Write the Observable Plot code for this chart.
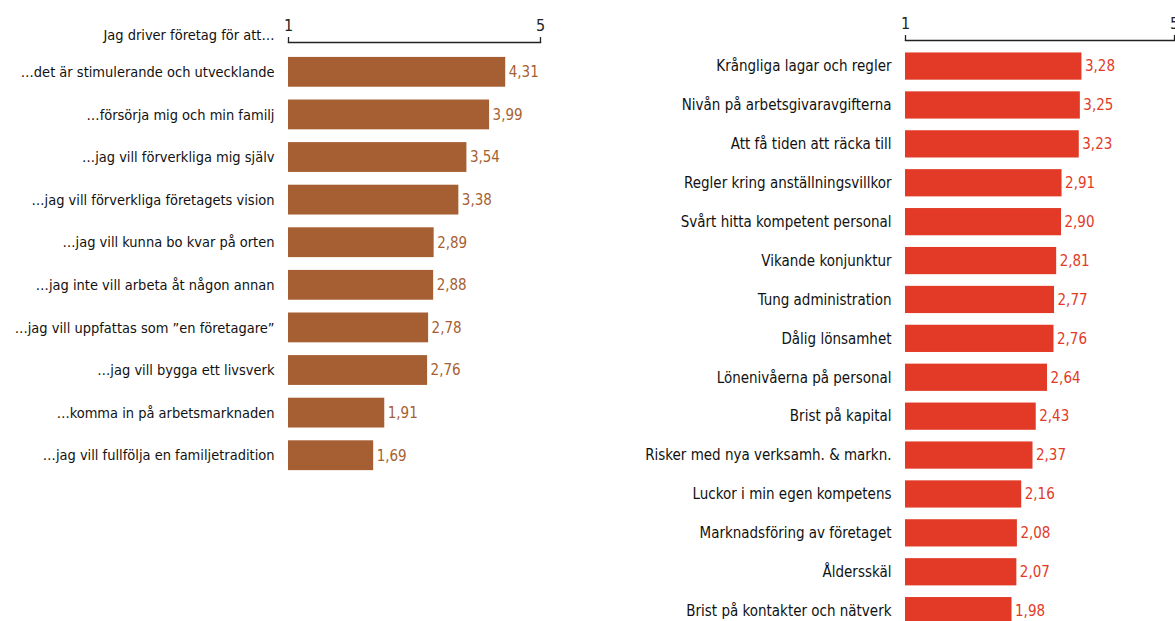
<!DOCTYPE html>
<html>
<head>
<meta charset="utf-8">
<script src="https://cdn.jsdelivr.net/npm/d3@7"></script>
<script src="https://cdn.jsdelivr.net/npm/@observablehq/plot@0.6"></script>
<style>
  html, body { margin: 0; padding: 0; background: #fff; overflow: hidden; }
  #wrap { position: relative; width: 1175px; height: 621px; }
  #left { position: absolute; left: 0; top: 0; }
  #right { position: absolute; left: 600px; top: 0; }
  svg { font-family: "DejaVu Sans Condensed", "DejaVu Sans", sans-serif; }
</style>
</head>
<body>
<div id="wrap"><div id="left"></div><div id="right"></div></div>
<script>
const leftTitle = "Jag driver företag för att…";
const leftCategories = [
  "…det är stimulerande och utvecklande",
  "…försörja mig och min familj",
  "…jag vill förverkliga mig själv",
  "…jag vill förverkliga företagets vision",
  "…jag vill kunna bo kvar på orten",
  "…jag inte vill arbeta åt någon annan",
  "…jag vill uppfattas som ”en företagare”",
  "…jag vill bygga ett livsverk",
  "…komma in på arbetsmarknaden",
  "…jag vill fullfölja en familjetradition"
];
const leftValues = [4.31, 3.99, 3.54, 3.38, 2.89, 2.88, 2.78, 2.76, 1.91, 1.69];

const rightCategories = [
  "Krångliga lagar och regler",
  "Nivån på arbetsgivaravgifterna",
  "Att få tiden att räcka till",
  "Regler kring anställningsvillkor",
  "Svårt hitta kompetent personal",
  "Vikande konjunktur",
  "Tung administration",
  "Dålig lönsamhet",
  "Lönenivåerna på personal",
  "Brist på kapital",
  "Risker med nya verksamh. & markn.",
  "Luckor i min egen kompetens",
  "Marknadsföring av företaget",
  "Åldersskäl",
  "Brist på kontakter och nätverk"
];
const rightValues = [3.28, 3.25, 3.23, 2.91, 2.90, 2.81, 2.77, 2.76, 2.64, 2.43, 2.37, 2.16, 2.08, 2.07, 1.98];

// Axis: ticks placed at the scale ends, labelled as in the original
const tickValues = [0, 5];
const tickLabels = ["1", "5"];

const leftColor = "#a65f32";
const rightColor = "#e23a26";

const fmt = v => d3.format(".2f")(v).replace(".", ",");

function panel({categories, values, color, width, height, marginLeft, marginRight, marginTop, paddingOuter, title, fontSize}) {
  const data = categories.map((c, i) => ({cat: c, val: values[i]}));
  const marks = [
    Plot.frame({anchor: "top", stroke: "#222", strokeWidth: 1.3}),
    Plot.axisX({
      anchor: "top", ticks: tickValues, tickSize: 6, tickPadding: 5,
      tickFormat: d => tickLabels[tickValues.indexOf(d)],
      fontSize: 16, stroke: "#222", strokeWidth: 1.3, color: "#222", label: null
    }),
    Plot.axisY({tickSize: 0, tickPadding: 14, fontSize, label: null, color: "#111"}),
    Plot.barX(data, {y: "cat", x: "val", fill: color}),
    Plot.text(data, {y: "cat", x: "val", text: d => fmt(d.val), textAnchor: "start", dx: 3, fill: color, fontSize: 15})
  ];
  if (title) {
    marks.push(Plot.text([title], {frameAnchor: "top-left", text: d => d, textAnchor: "end", dx: -14, dy: -13, fontSize, fill: "#111"}));
  }
  return Plot.plot({
    width, height, marginLeft, marginRight, marginTop, marginBottom: 0,
    style: {fontFamily: "'DejaVu Sans Condensed', 'DejaVu Sans', sans-serif", background: "#fff", overflow: "visible"},
    x: {domain: [0, 5], axis: null},
    y: {domain: categories, paddingInner: 0.3, paddingOuter: paddingOuter, round: false, axis: null},
    marks
  });
}

document.getElementById("left").append(panel({
  categories: leftCategories, values: leftValues, color: leftColor,
  width: 560, height: 42 + 42.6 * 10.4, marginLeft: 288, marginRight: 20, marginTop: 42,
  paddingOuter: 0.35, title: leftTitle, fontSize: 14.5
}));
document.getElementById("right").append(panel({
  categories: rightCategories, values: rightValues, color: rightColor,
  width: 575, height: 40 + 38.9 * 15.34, marginLeft: 305, marginRight: 1, marginTop: 40,
  paddingOuter: 0.32, fontSize: 15
}));
</script>
</body>
</html>
